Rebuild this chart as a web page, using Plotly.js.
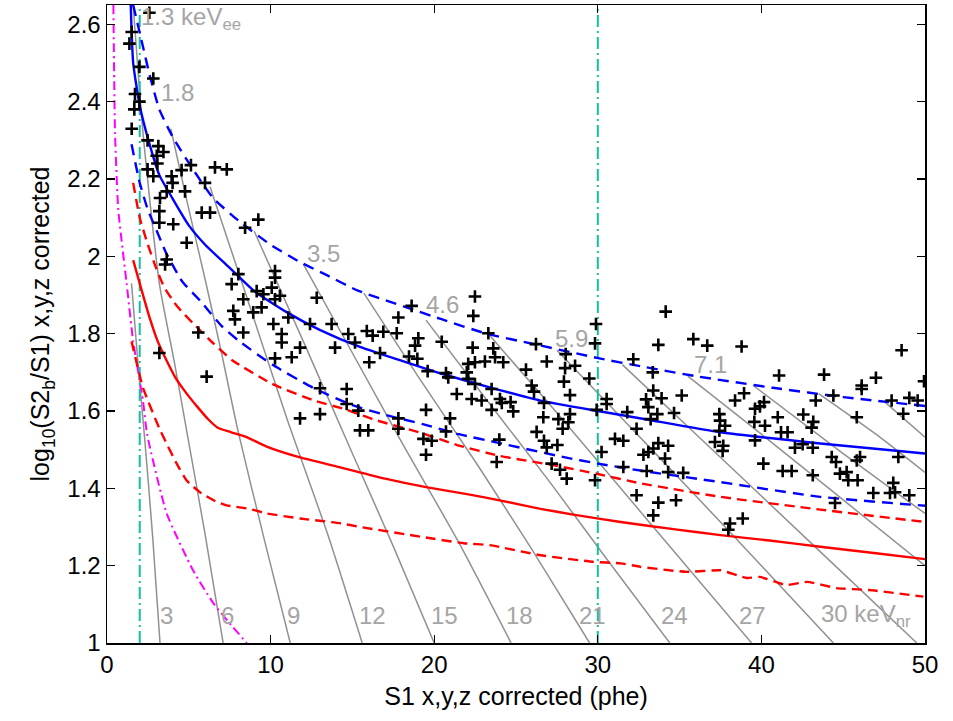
<!DOCTYPE html>
<html>
<head>
<meta charset="utf-8">
<script src="https://cdn.plot.ly/plotly-3.0.1.min.js"></script>
<style>
html,body{margin:0;padding:0;background:#fff;}
#chart{width:953px;height:721px;}
</style>
</head>
<body>
<div id="chart"></div>
<script>
// ---------- data ----------
const eventsX = [2.59,1.51,1.37,1.98,2.83,1.71,1.98,1.67,1.51,2.48,3.14,3.45,3.04,3.08,5.13,6.6,7.32,2.48,4.56,3.95,2.83,4.01,5.99,3.65,4.77,3.24,3.2,5.79,6.3,9.25,8.44,3.2,4.05,4.87,3.65,3.55,10.27,10.27,8.03,7.62,10.07,
9.15,9.56,10.57,10.27,8.33,12.82,9.45,8.94,7.72,7.82,10.17,11.08,12.41,13.73,14.75,15.16,8.33,10.68,10.68,5.58,13.94,11.8,11.29,10.27,3.2,6.09,13.02,14.65,14.65,15.36,11.8,13.02,15.46,
22.49,22.39,18.62,17.81,17.71,16.89,15.88,16.24,19.03,18.83,20.46,16.69,16.03,18.46,18.97,19.6,20.72,20.86,23.31,22.35,23.61,23.72,23.1,24.22,22.49,22.08,21.99,22.08,22.49,23.51,21.38,22.29,22.9,24.02,24.13,24.67,23.51,24.83,
26.22,26.88,25.61,25.96,26.1,26.71,28.04,28.0,28.61,27.93,29.48,28.3,29.89,29.83,29.93,30.54,30.54,31.8,32.17,32.37,26.67,27.59,28.2,28.3,26.26,26.71,26.88,27.53,27.85,23.98,20.97,20.72,19.5,17.81,17.81,15.97,19.34,19.85,19.5,30.23,31.05,31.56,
23.82,27.18,27.69,28.1,29.83,31.56,32.37,
34.15,33.7,35.84,36.69,38.79,33.36,33.39,33.9,35.13,32.95,33.09,33.64,33.23,34.66,33.7,33.39,33.09,32.79,34.3,34.11,32.99,34.3,35.22,33.7,34.78,33.39,
37.43,37.47,37.78,37.43,37.16,37.67,37.63,38.39,38.94,39.61,39.91,40.16,39.57,40.22,39.61,40.12,41.0,41.2,41.6,41.3,41.85,41.08,43.83,43.32,42.56,43.17,43.07,42.05,42.52,43.14,43.14,
44.4,46.13,46.13,47.0,45.83,44.3,44.56,44.8,45.21,45.31,45.88,45.83,46.03,44.5,46.84,47.96,48.57,49.04,49.55,48.67,48.37,48.06,48.17,49.04,47.86,49.94,38.08,37.98,38.86];
const eventsY = [2.63,2.58,2.55,2.49,2.46,2.42,2.40,2.38,2.33,2.30,2.285,2.27,2.26,2.24,2.236,2.23,2.225,2.225,2.223,2.207,2.207,2.19,2.19,2.168,2.168,2.151,2.117,2.113,2.113,2.095,2.074,2.087,2.083,2.035,1.992,1.979,1.962,1.945,1.954,1.928,1.919,
1.91,1.902,1.898,1.889,1.889,1.893,1.868,1.855,1.859,1.837,1.825,1.842,1.825,1.825,1.799,1.777,1.803,1.799,1.777,1.803,1.764,1.764,1.739,1.736,1.75,1.689,1.659,1.657,1.618,1.601,1.581,1.592,1.55,
1.896,1.846,1.872,1.842,1.801,1.805,1.807,1.795,1.788,1.769,1.779,1.75,1.726,1.741,1.735,1.703,1.698,1.687,1.801,1.764,1.762,1.739,1.728,1.726,1.726,1.722,1.70,1.683,1.67,1.657,1.644,1.631,1.627,1.631,1.621,1.623,1.603,1.599,
1.773,1.728,1.707,1.666,1.65,1.621,1.747,1.711,1.717,1.676,1.684,1.641,1.825,1.775,1.603,1.631,1.618,1.597,1.734,1.554,1.584,1.579,1.571,1.592,1.546,1.523,1.506,1.512,1.554,1.526,1.581,1.547,1.603,1.581,1.554,1.55,1.528,1.523,1.487,1.494,1.528,1.523,
1.468,1.464,1.448,1.425,1.421,1.455,1.382,
1.857,1.771,1.786,1.769,1.767,1.70,1.653,1.633,1.64,1.63,1.61,1.592,1.579,1.595,1.517,1.503,1.494,1.487,1.51,1.477,1.445,1.442,1.44,1.363,1.369,1.33,
1.592,1.575,1.562,1.549,1.52,1.51,1.497,1.627,1.646,1.606,1.612,1.623,1.572,1.562,1.524,1.464,1.584,1.545,1.545,1.445,1.445,1.692,1.694,1.627,1.591,1.572,1.557,1.505,1.514,1.505,1.434,
1.64,1.666,1.657,1.686,1.584,1.481,1.468,1.438,1.442,1.421,1.421,1.472,1.481,1.362,1.388,1.627,1.757,1.634,1.627,1.593,1.481,1.414,1.39,1.382,1.388,1.677,1.309,1.293,1.322];

const nrMeanX = [1.45,1.6,2.0,2.6,3.2,4.0,5.0,6.0,7.5,9.0,11,13,15.5,18,20.4,23.5,26.5,30,33,37.5,43.6,50];
const nrMeanY = [2.65,2.5,2.39,2.29,2.21,2.15,2.08,2.03,1.97,1.91,1.855,1.81,1.765,1.73,1.697,1.66,1.627,1.60,1.578,1.545,1.516,1.49];
const nrHighX = [1.6,2.1,2.6,3.2,4.0,5.1,6.5,8.1,10,11.8,13.5,15.3,18.3,20.4,23.2,26.2,30.1,32.6,36,40.7,45,50];
const nrHighY = [2.65,2.56,2.47,2.38,2.31,2.235,2.15,2.09,2.03,1.985,1.95,1.912,1.868,1.838,1.80,1.772,1.736,1.716,1.69,1.66,1.636,1.613];
const nrLowX = [1.5,2.0,2.5,3.0,3.6,4.6,5.7,7.0,8.1,10.1,12.6,15.0,17,19.3,21.5,24,28,30,32.6,37.5,43.6,50];
const nrLowY = [2.29,2.19,2.12,2.07,2.01,1.935,1.885,1.82,1.78,1.72,1.66,1.615,1.59,1.566,1.54,1.517,1.48,1.464,1.446,1.416,1.378,1.355];
const erMeanX = [1.6,2.0,2.6,3.1,3.65,4.2,4.87,5.5,6.2,6.8,7.6,8.5,9.76,11.8,14.2,17,19.5,22,24,26.5,28.5,31.4,34.5,37.5,40.5,43.6,47,50];
const erMeanY = [1.99,1.93,1.842,1.78,1.73,1.685,1.645,1.612,1.578,1.556,1.545,1.533,1.508,1.48,1.455,1.425,1.403,1.385,1.369,1.347,1.332,1.313,1.295,1.279,1.265,1.249,1.232,1.217];
const erHighX = [1.6,2.0,2.5,3.0,3.5,4.3,5.3,6.5,7.7,10.1,12.6,14.5,16.3,19.3,21.4,24,27.5,30,32.6,37.5,43.6,50];
const erHighY = [2.19,2.10,2.03,1.97,1.92,1.87,1.825,1.775,1.73,1.67,1.628,1.605,1.578,1.542,1.512,1.484,1.458,1.437,1.413,1.378,1.345,1.313];
const erLowX = [1.5,2.2,3.2,3.65,4.26,4.87,5.68,6.7,7.3,8.7,9.76,11.8,14.2,15.5,19.3,21.8,23.4,26.5,29.7,31.4,32.6,35.4,37.5,39.1,39.9,41.5,42.8,44.6,46.6,49.9];
const erLowY = [1.78,1.66,1.555,1.515,1.464,1.42,1.39,1.365,1.356,1.347,1.335,1.322,1.31,1.30,1.274,1.258,1.253,1.227,1.21,1.206,1.197,1.184,1.188,1.168,1.171,1.15,1.158,1.142,1.137,1.12];
const thresholdX = [0.39,0.49,0.69,1.2,1.6,2.2,2.45,3.65,5.26,6.5,7.7,8.54];
const thresholdY = [2.65,2.32,2.12,1.93,1.78,1.627,1.54,1.335,1.188,1.103,1.041,1.0];
const s1CutsX = [2, 30];
const yRange = [1, 2.65];

// constant-energy contours (keVnr values 3..45)
const contourNames = ['3','6','9','12','15','18','21','24','27','30','33','36','39','42','45'];
const contourX = [
  [1.5,1.9,2.3,2.8,3.24],
  [1.6,2.2,3.2,4.1,4.95,6.0,7.1],
  [3.9,4.9,6.0,7.0,8.0,9.6,11.2],
  [6.3,8.5,11.0,13.5,15.6],
  [9.0,12.0,15.0,17.5,20.0],
  [12.0,15.0,18.0,21.5,24.7],
  [15.7,19,22.5,26,29.5],
  [19.5,23,27,30.5,34.4],
  [23.4,27,31,35,39.4],
  [27.5,31.5,36,40,44.4],
  [31.5,36,40.5,45,49.5],
  [35.5,40,45,50],
  [39.5,45,50],
  [43.5,47,50],
  [47.5,50]
];
const contourY = [
  [1.93,1.72,1.53,1.27,1.0],
  [2.65,2.32,1.93,1.73,1.53,1.28,1.0],
  [2.33,2.14,1.94,1.75,1.55,1.27,1.0],
  [2.18,1.90,1.58,1.28,1.0],
  [2.065,1.78,1.49,1.25,1.0],
  [1.98,1.75,1.52,1.26,1.0],
  [1.905,1.69,1.47,1.24,1.0],
  [1.835,1.64,1.42,1.22,1.0],
  [1.795,1.62,1.42,1.22,1.0],
  [1.757,1.58,1.38,1.2,1.0],
  [1.72,1.54,1.36,1.18,1.0],
  [1.69,1.54,1.37,1.2],
  [1.666,1.49,1.335],
  [1.645,1.54,1.441],
  [1.625,1.532]
];

// energy labels
const topLabels = ['1.3 keV<sub>ee</sub>','1.8','3.5','4.6','5.9','7.1'];
const topLabelX = [1.95,4.3,13.25,20.5,28.4,36.9];
const topLabelY = [2.615,2.423,2.008,1.876,1.787,1.721];
const bottomLabels = ['3','6','9','12','15','18','21','24','27','30 keV<sub>nr</sub>'];
const bottomLabelX = [3.65,7.35,11.4,16.25,20.6,25.2,29.7,34.66,39.46,43.5];
const bottomLabelY = 1.07;

const xTicks = [0,10,20,30,40,50];
const yTicks = [1,1.2,1.4,1.6,1.8,2,2.2,2.4,2.6];
const yTickText = ['1','1.2','1.4','1.6','1.8','2','2.2','2.4','2.6'];

// ---------- traces ----------
const traces = [];
const gray = 'rgb(145,145,145)';
contourX.forEach((xs, i) => {
  traces.push({x: xs, y: contourY[i], mode: 'lines', type: 'scatter', name: contourNames[i],
    line: {color: gray, width: 1.5, shape: 'spline', smoothing: 0.6}, hoverinfo: 'skip'});
});
traces.push({x: thresholdX, y: thresholdY, mode: 'lines', type: 'scatter',
  line: {color: '#ff00ff', width: 2, dash: '9px,4px,2px,4px', shape: 'spline', smoothing: 0.5}});
s1CutsX.forEach(v => {
  traces.push({x: [v, v], y: yRange, mode: 'lines', type: 'scatter',
    line: {color: 'rgb(20,190,160)', width: 2, dash: '12px,4px,2px,4px'}});
});
const red = '#ff0000', blue = '#0000ff';
traces.push({x: erLowX, y: erLowY, mode: 'lines', type: 'scatter', line: {color: red, width: 2.4, dash: '10px,6px', shape: 'spline', smoothing: 0.4}});
traces.push({x: erHighX, y: erHighY, mode: 'lines', type: 'scatter', line: {color: red, width: 2.4, dash: '10px,6px', shape: 'spline', smoothing: 0.5}});
traces.push({x: erMeanX, y: erMeanY, mode: 'lines', type: 'scatter', line: {color: red, width: 2.4, shape: 'spline', smoothing: 0.5}});
traces.push({x: nrLowX, y: nrLowY, mode: 'lines', type: 'scatter', line: {color: blue, width: 2.4, dash: '11px,7px', shape: 'spline', smoothing: 0.5}});
traces.push({x: nrHighX, y: nrHighY, mode: 'lines', type: 'scatter', line: {color: blue, width: 2.4, dash: '11px,7px', shape: 'spline', smoothing: 0.5}});
traces.push({x: nrMeanX, y: nrMeanY, mode: 'lines', type: 'scatter', line: {color: blue, width: 2.4, shape: 'spline', smoothing: 0.5}});
traces.push({x: eventsX, y: eventsY, mode: 'markers', type: 'scatter',
  marker: {symbol: 'cross-thin', size: 9, color: '#000', line: {color: '#000', width: 2.6}}});

// ---------- annotations ----------
const labelFont = {family: 'Liberation Sans, Arial, sans-serif', size: 24, color: 'rgb(165,165,165)'};
const annotations = [];
topLabels.forEach((t, i) => {
  annotations.push({x: topLabelX[i], y: topLabelY[i], text: t, showarrow: false,
    xanchor: i === 0 ? 'left' : 'center', yanchor: 'middle', font: labelFont});
});
bottomLabels.forEach((t, i) => {
  annotations.push({x: bottomLabelX[i], y: bottomLabelY, text: t, showarrow: false,
    xanchor: i === bottomLabels.length - 1 ? 'left' : 'center', yanchor: 'middle', font: labelFont});
});

const tickFont = {family: 'Liberation Sans, Arial, sans-serif', size: 24, color: '#000'};
const titleFont = {family: 'Liberation Sans, Arial, sans-serif', size: 25, color: '#000'};
const layout = {
  width: 953, height: 721,
  margin: {l: 107, r: 28, t: 5, b: 78},
  paper_bgcolor: '#fff', plot_bgcolor: '#fff',
  showlegend: false,
  font: tickFont,
  xaxis: {range: [0, 50], tickvals: xTicks, ticks: 'inside', ticklen: 8, tickwidth: 1.2, tickcolor: '#000',
    showline: true, linecolor: '#000', linewidth: 1.5, mirror: 'ticks', showgrid: false, zeroline: false,
    tickfont: tickFont, title: {text: 'S1 x,y,z corrected (phe)', font: titleFont, standoff: 10}},
  yaxis: {range: yRange, tickvals: yTicks, ticktext: yTickText, ticks: 'inside', ticklen: 8, tickwidth: 1.2, tickcolor: '#000',
    showline: true, linecolor: '#000', linewidth: 1.5, mirror: 'ticks', showgrid: false, zeroline: false,
    tickfont: tickFont, title: {text: 'log<sub>10</sub>(S2<sub>b</sub>/S1) x,y,z corrected', font: titleFont, standoff: 10}},
  annotations: annotations
};

Plotly.newPlot('chart', traces, layout, {staticPlot: true, displayModeBar: false});
</script>
</body>
</html>
